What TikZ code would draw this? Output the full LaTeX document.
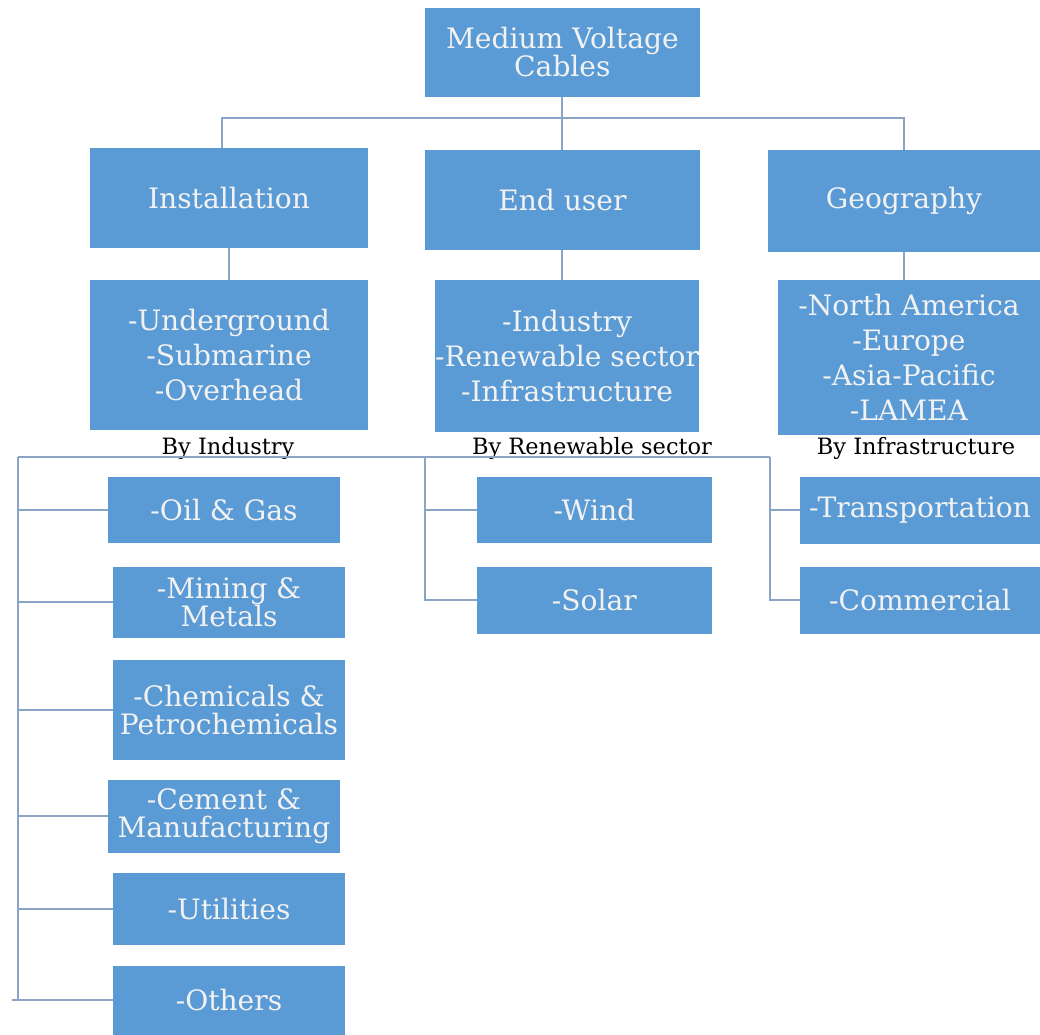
\documentclass[tikz,border=0pt]{standalone}
\usepackage{fontspec}
\setmainfont{DejaVu Serif}
\usetikzlibrary{positioning}
\definecolor{boxblue}{HTML}{5B9BD5}
\definecolor{linegray}{HTML}{8AA5C3}
\tikzset{
    mynode/.style = {rectangle, fill=boxblue, text=white!95!black, align=center, inner sep=0pt,
                     font=\fontsize{20}{20}\selectfont},
    mylist/.style = {mynode, font=\fontsize{20}{25}\selectfont},
    mylabel/.style = {text=black, inner sep=0pt, font=\fontsize{16}{18}\selectfont},
    edgen/.style = {draw=linegray, line width=1.3pt},
}

\begin{document}
\begin{tikzpicture}
\useasboundingbox (0,0) rectangle (26,-25.875);
\node[mynode, minimum width=6.875cm, minimum height=2.225cm] at (14.06,-1.31) (root) {Medium Voltage\\Cables};
%
\node[mynode, minimum width=6.95cm, minimum height=2.5cm] at (5.725,-4.95) (inst) {Installation};
\node[mynode, minimum width=6.875cm, minimum height=2.5cm] at (14.06,-5.0) (user) {End user};
\node[mynode, minimum width=6.8cm, minimum height=2.55cm] at (22.6,-5.025) (geo) {Geography};
%
\node[mylist, minimum width=6.95cm, minimum height=3.75cm] at (5.725,-8.875) (instl) {-Underground\\-Submarine\\-Overhead};
\node[mylist, minimum width=6.5cm, minimum height=3.8cm] at (14.175,-8.9) (userl) {-Industry\\-Renewable sector\\-Infrastructure};
\node[mylist, minimum width=6.55cm, minimum height=3.875cm] at (22.725,-8.94) (geol) {-North America\\-Europe\\-Asia-Pacific\\-LAMEA};
%
\node[mylabel] at (5.7,-11.2) (byind) {By Industry};
\node[mylabel] at (14.8,-11.2) (byren) {By Renewable sector};
\node[mylabel] at (22.9,-11.2) (byinf) {By Infrastructure};
%
\node[mynode, minimum width=5.8cm, minimum height=1.65cm] at (5.6,-12.75) (oil) {-Oil \& Gas};
\node[mynode, minimum width=5.8cm, minimum height=1.775cm] at (5.725,-15.06) (mining) {-Mining \&\\Metals};
\node[mynode, minimum width=5.8cm, minimum height=2.5cm] at (5.725,-17.75) (chem) {-Chemicals \&\\Petrochemicals};
\node[mynode, minimum width=5.8cm, minimum height=1.825cm] at (5.6,-20.41) (cement) {-Cement \&\\Manufacturing};
\node[mynode, minimum width=5.8cm, minimum height=1.8cm] at (5.725,-22.72) (util) {-Utilities};
\node[mynode, minimum width=5.8cm, minimum height=1.725cm] at (5.725,-25.01) (others) {-Others};
%
\node[mynode, minimum width=5.875cm, minimum height=1.65cm] at (14.86,-12.75) (wind) {-Wind};
\node[mynode, minimum width=5.875cm, minimum height=1.675cm] at (14.86,-15.01) (solar) {-Solar};
\node[mynode, minimum width=6.0cm, minimum height=1.675cm] at (23.0,-12.76) (trans) {-Transportation};
\node[mynode, minimum width=6.0cm, minimum height=1.675cm] at (23.0,-15.01) (comm) {-Commercial};
%
\coordinate (bar) at (0,-2.95);
\coordinate (brk) at (0.45,-11.425);
\coordinate (renx) at (10.625,-11.425);
\coordinate (infx) at (19.25,-11.425);
%
\draw[edgen] (root.south) -- (user.north);
\draw[edgen] (inst.north -| 5.55,0) |- (bar -| root.south) -| (geo.north);
\draw[edgen] (inst.south) -- (instl.north);
\draw[edgen] (user.south) -- (user.south |- userl.north);
\draw[edgen] (geo.south) -- (geo.south |- geol.north);
%
\draw[edgen] (brk) -- (infx);
\draw[edgen] (brk) -- (brk |- others.west);
\draw[edgen] (oil.west) -- (oil.west -| brk);
\draw[edgen] (mining.west) -- (mining.west -| brk);
\draw[edgen] (chem.west) -- (chem.west -| brk);
\draw[edgen] (cement.west) -- (cement.west -| brk);
\draw[edgen] (util.west) -- (util.west -| brk);
\draw[edgen] (others.west) -- ([xshift=-0.15cm]others.west -| brk);
%
\draw[edgen] (renx) |- (solar.west);
\draw[edgen] (wind.west) -- (wind.west -| renx);
\draw[edgen] (infx) |- (comm.west);
\draw[edgen] (trans.west) -- (trans.west -| infx);
\end{tikzpicture}
\end{document}
